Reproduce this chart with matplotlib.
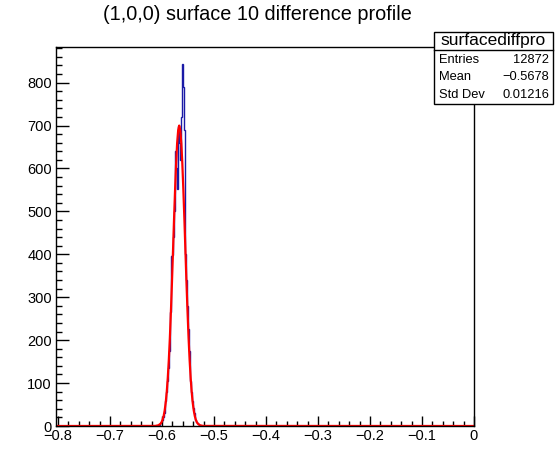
import numpy as np
import matplotlib.pyplot as plt
from matplotlib.patches import Rectangle
from matplotlib.ticker import MultipleLocator, FuncFormatter

plt.rcParams['font.family'] = ['Liberation Sans', 'DejaVu Sans']

# histogram: 500 bins from -0.8 to 0, only the bins around the peak are non-empty
n_bins = 500
x_lo, x_hi = -0.8, 0.0
first_bin = 121
peak_counts = [
    2, 4, 6, 10, 15, 21, 30, 42, 58, 80, 105, 135, 175, 215, 265, 395,
    398, 440, 500, 636, 640, 600, 552, 700, 660,
    650, 620, 720, 843, 790, 690, 552, 400, 340, 280, 225, 175, 140, 105,
    80, 58, 42, 30, 21, 14, 9, 6, 4, 2,
]

# gaussian fit curve
fit_x = [
    -0.8, -0.613, -0.607, -0.603, -0.601, -0.599, -0.597, -0.595, -0.593,
    -0.591, -0.589, -0.587, -0.585, -0.583, -0.581, -0.579, -0.577, -0.575,
    -0.573, -0.571, -0.569, -0.567, -0.565, -0.563, -0.561, -0.559, -0.557,
    -0.555, -0.553, -0.551, -0.549, -0.547, -0.545, -0.543, -0.541, -0.539,
    -0.537, -0.535, -0.533, -0.531, -0.527, -0.521, 0.0,
]
fit_y = [
    0, 0.2, 1.7, 5.2, 8.8, 14.5, 23, 36, 54,
    79, 112, 154, 205, 266, 333, 406, 480, 549,
    611, 659, 689, 700, 689, 659, 611, 549, 480,
    406, 333, 266, 205, 154, 112, 79, 54, 36,
    23, 14.5, 8.8, 5.2, 1.7, 0.2, 0,
]

title = '(1,0,0) surface 10 difference profile'
stats_name = 'surfacediffpro'
stats_rows = [('Entries', '12872'), ('Mean', '\u22120.5678'), ('Std Dev', '0.01216')]

W, H = 558, 474
fig = plt.figure(figsize=(W / 100, H / 100), dpi=100)
ax = fig.add_axes([56 / W, 1 - 426 / H, 418 / W, 379 / H])

counts = np.zeros(n_bins)
counts[first_bin:first_bin + len(peak_counts)] = peak_counts
edges = np.linspace(x_lo, x_hi, n_bins + 1)
ax.stairs(counts, edges, color='#1a1aa6', lw=1.0)
ax.plot(fit_x, fit_y, color='#ff0000', lw=1.6)

ax.set_xlim(-0.804, 0.0)
ax.set_ylim(0, 883)
ax.xaxis.set_major_locator(MultipleLocator(0.1))
ax.xaxis.set_minor_locator(MultipleLocator(0.02))
ax.xaxis.set_major_formatter(FuncFormatter(
    lambda v, p: ('%g' % round(v, 3)).replace('-', '\u2212') if abs(v) > 1e-9 else '0'))
ax.yaxis.set_major_locator(MultipleLocator(100))
ax.yaxis.set_minor_locator(MultipleLocator(20))
ax.tick_params(axis='both', which='both', direction='in', top=False, right=False,
               labelsize=10.5, width=1)
ax.tick_params(axis='x', which='major', length=7, pad=2)
ax.tick_params(axis='x', which='minor', length=3.5)
ax.tick_params(axis='y', which='major', length=9, pad=3)
ax.tick_params(axis='y', which='minor', length=4.5)
for sp in ax.spines.values():
    sp.set_linewidth(1)

fig.text(257 / W, 1 - 15 / H, title, ha='center', va='center', fontsize=14.3)

# stats box
bx0, bx1, by0, by1, bsep = 434, 553, 32, 104, 50
fig.patches.append(Rectangle((bx0 / W, 1 - by1 / H), (bx1 - bx0) / W, (by1 - by0) / H,
                             transform=fig.transFigure, facecolor='white',
                             edgecolor='black', lw=1, zorder=5))
fig.add_artist(plt.Line2D([bx0 / W, bx1 / W], [1 - bsep / H, 1 - bsep / H],
                          transform=fig.transFigure, color='black', lw=1, zorder=6))
fig.text((bx0 + bx1) / 2 / W, 1 - 41 / H, stats_name, ha='center', va='center',
         fontsize=12.5, zorder=7)
for i, (name, val) in enumerate(stats_rows):
    yy = 1 - (60 + 17.5 * i) / H
    fig.text(439 / W, yy, name, ha='left', va='center', fontsize=9.3, zorder=7)
    fig.text(549 / W, yy, val, ha='right', va='center', fontsize=9.3, zorder=7)

fig.savefig('out.png', dpi=100)
